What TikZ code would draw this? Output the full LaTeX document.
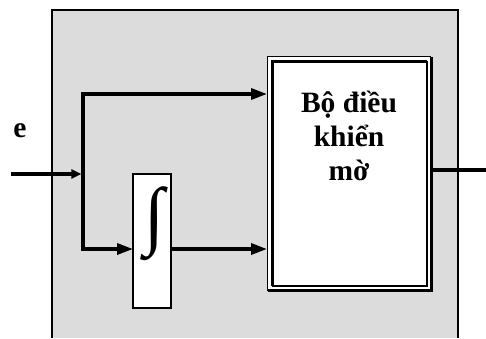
\documentclass[tikz,border=0pt]{standalone}
\usepackage{fontspec}
\setmainfont{Liberation Serif}
\usepackage{graphicx}
\usetikzlibrary{arrows.meta,calc}
\definecolor{panelgray}{HTML}{DCDCDC}

\begin{document}
\begin{tikzpicture}[x=1pt,y=-1pt]
    \tikzset{every node/.style={inner sep=0pt,outer sep=0pt}}
    \tikzset{wire/.style={line width=3.3pt}}
    \tikzset{sig/.style={wire,-{Triangle[length=16pt,width=11pt]}}}
    \tikzset{insig/.style={wire,-{Triangle[length=10pt,width=9pt]}}}
    \tikzset{thinrule/.style={line width=1.3pt},thickrule/.style={line width=3pt}}
    \tikzset{lbl/.style={font=\fontsize{29.5}{34}\selectfont\bfseries}}
    \useasboundingbox (0,0) rectangle (486,338);
    % panel
    \fill[panelgray] (52,10) rectangle (458,338);
    \draw[line width=1.6pt] (52,338) -- (52,10) -- (458,10) -- (458,338);
    % blocks
    \node[fill=white, minimum width=163.5pt, minimum height=234pt] (fuzzy) at (349.25,173.5) {};
    \draw[thinrule] (fuzzy.south west) -- (fuzzy.north west) -- (fuzzy.north east);
    \draw[thickrule] (fuzzy.north east) -- (fuzzy.south east) -- (fuzzy.south west);
    \draw[thickrule] ([shift={(4.5,-4.5)}]fuzzy.south west) -- ([shift={(4.5,4.5)}]fuzzy.north west)
        -- ([shift={(-4,4.5)}]fuzzy.north east);
    \draw[thinrule] ([shift={(-4,4.5)}]fuzzy.north east) -- ([shift={(-4,-4.5)}]fuzzy.south east)
        -- ([shift={(4.5,-4.5)}]fuzzy.south west);
    \node[lbl, align=center, anchor=north] (fuzzylbl) at (349,91) {Bộ điều\\khiển\\mờ};
    \node[draw, line width=1.5pt, fill=white, minimum width=38pt, minimum height=134pt] (integ) at (152,241) {};
    \node (intsym) at (155,224) {\resizebox*{20pt}{74pt}{\bfseries ∫}};
    \node[lbl, anchor=base] (elbl) at (20,137) {e};
    % signals
    \coordinate (in) at (11,174);
    \coordinate (split) at (83,174);
    \coordinate (f1) at (267,94);
    \coordinate (f2) at (267,249);
    \coordinate (lowin) at (133,249);
    \coordinate (out) at (486,170);
    \draw[insig] (in) -- ([xshift=-1.6pt]split);
    \draw[sig] (split) |- (f1);
    \draw[sig] (split) |- (lowin);
    \draw[sig] (integ.east |- f2) -- (f2);
    \draw[wire] (fuzzy.east |- out) -- (out);
\end{tikzpicture}
\end{document}
